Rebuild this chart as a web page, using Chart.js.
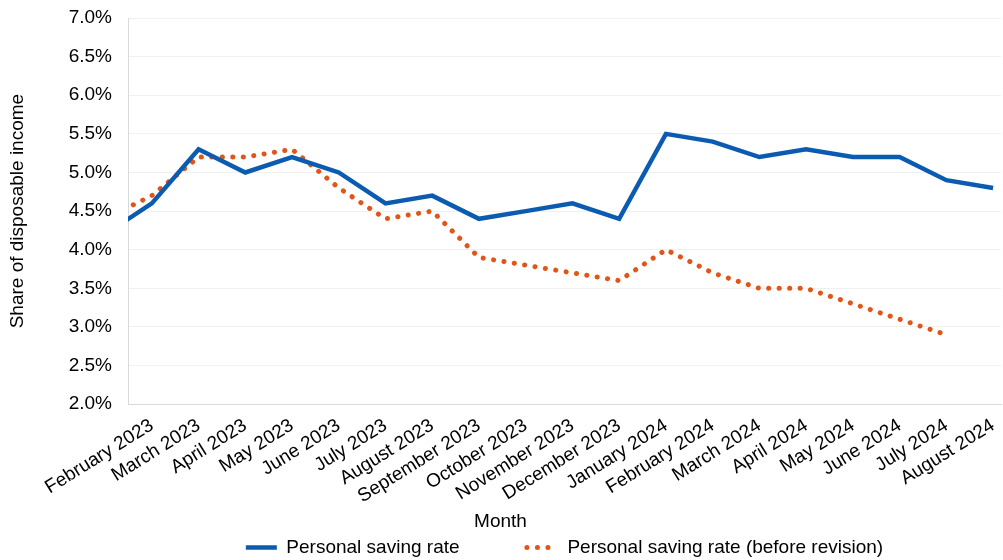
<!DOCTYPE html>
<html>
<head>
<meta charset="utf-8">
<script src="https://cdn.jsdelivr.net/npm/chart.js@4.4.1/dist/chart.umd.min.js"></script>
<style>
  html, body { margin: 0; padding: 0; background: #ffffff; }
  #wrap { width: 1003px; height: 560px; }
</style>
</head>
<body>
<div id="wrap"><canvas id="savingRate"></canvas></div>
<script>
// Month labels; January 2023 sits just left of the plotted window
const months = [
    'January 2023', 'February 2023', 'March 2023', 'April 2023', 'May 2023', 'June 2023',
    'July 2023', 'August 2023', 'September 2023', 'October 2023', 'November 2023',
    'December 2023', 'January 2024', 'February 2024', 'March 2024', 'April 2024',
    'May 2024', 'June 2024', 'July 2024', 'August 2024'
];

// Personal saving rate, % of disposable income
const savingRate = [4.2, 4.6, 5.3, 5.0, 5.2, 5.0, 4.6, 4.7, 4.4, 4.5, 4.6, 4.4,
    5.5, 5.4, 5.2, 5.3, 5.2, 5.2, 4.9, 4.8];

// Same series before the revision (no August 2024 value)
const savingRateBefore = [4.4, 4.7, 5.2, 5.2, 5.3, 4.8, 4.4, 4.5, 3.9, 3.8, 3.7, 3.6,
    4.0, 3.7, 3.5, 3.5, 3.3, 3.1, 2.9, null];

const yTicks = [2.0, 2.5, 3.0, 3.5, 4.0, 4.5, 5.0, 5.5, 6.0, 6.5, 7.0];

const fuente = { family: "'Liberation Sans', Arial, sans-serif", size: 19, weight: 'normal' };
const negro = '#000000';

const toPoints = serie => serie.map((v, i) => ({ x: i, y: v }));

const ctx = document.getElementById('savingRate').getContext('2d');
new Chart(ctx, {
    type: 'line',
    data: {
        datasets: [{
            label: 'Personal saving rate',
            data: toPoints(savingRate),
            borderColor: '#0b5cb0',
            backgroundColor: '#0b5cb0',
            borderWidth: 4.5,
            pointRadius: 0,
            tension: 0
        }, {
            label: 'Personal saving rate (before revision)',
            data: toPoints(savingRateBefore),
            borderColor: '#e0561a',
            backgroundColor: '#e0561a',
            borderWidth: 5,
            borderDash: [0.1, 10.4],
            borderCapStyle: 'round',
            pointRadius: 0,
            tension: 0
        }]
    },
    options: {
        responsive: true,
        maintainAspectRatio: false,
        animation: false,
        layout: { padding: { top: 18, right: 2, bottom: -7, left: 0 } },
        scales: {
            x: {
                type: 'linear',
                min: 0.49,
                max: 19.17,
                grid: { display: false },
                border: { display: true, color: '#d9d9d9', width: 1 },
                afterBuildTicks: scale => {
                    scale.ticks = months.map((_, i) => ({ value: i })).filter(t => t.value >= 1);
                },
                afterFit: scale => {
                    scale.height = 106;
                    scale.paddingRight = 0;
                },
                ticks: {
                    autoSkip: false,
                    minRotation: 32,
                    maxRotation: 32,
                    padding: 2,
                    color: negro,
                    font: fuente,
                    callback: value => months[value]
                }
            },
            y: {
                min: 2,
                max: 7,
                afterBuildTicks: scale => {
                    scale.ticks = yTicks.map(v => ({ value: v }));
                },
                afterFit: scale => {
                    scale.width = 128;
                    scale.paddingTop = 0;
                    scale.paddingBottom = 0;
                },
                grid: { color: '#f0f0f0', lineWidth: 1, drawTicks: false },
                border: { display: true, color: '#d9d9d9', width: 1 },
                ticks: {
                    padding: 16,
                    color: negro,
                    font: fuente,
                    callback: value => value.toFixed(1) + '%'
                },
                title: {
                    display: true,
                    text: 'Share of disposable income',
                    color: negro,
                    font: fuente,
                    padding: { top: 6, bottom: 0 }
                }
            }
        },
        plugins: {
            title: {
                display: true,
                text: 'Month',
                position: 'bottom',
                weight: 500,
                color: negro,
                font: fuente,
                padding: { top: 0, bottom: 1 }
            },
            legend: {
                position: 'bottom',
                fullSize: false,
                labels: {
                    usePointStyle: true,
                    pointStyle: 'line',
                    pointStyleWidth: 31,
                    padding: 4,
                    color: negro,
                    font: fuente,
                    generateLabels: chart => {
                        const items = Chart.defaults.plugins.legend.labels.generateLabels(chart);
                        // the legend sample takes the dataset's own line style
                        items.forEach(item => {
                            const ds = chart.data.datasets[item.datasetIndex];
                            item.lineWidth = ds.borderWidth;
                            item.lineDash = ds.borderDash || [];
                            item.lineCap = ds.borderCapStyle || 'butt';
                        });
                        // widen the first entry so the second one starts further right
                        items[0].text += '\u00a0'.repeat(12);
                        return items;
                    }
                }
            },
            tooltip: { enabled: false }
        }
    }
});
</script>
</body>
</html>
